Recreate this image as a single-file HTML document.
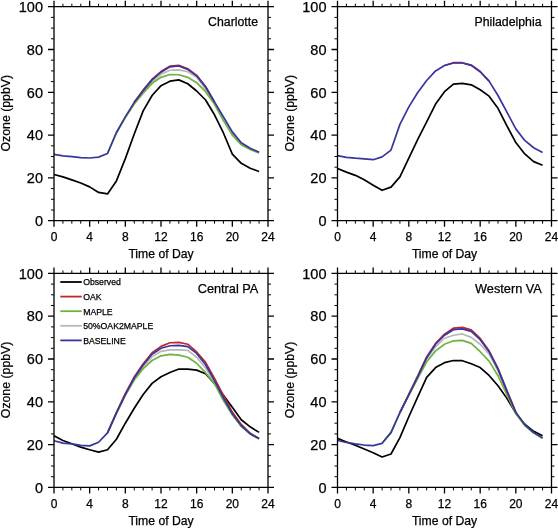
<!DOCTYPE html>
<html><head><meta charset="utf-8"><style>
html,body{margin:0;padding:0;background:#fff;}
body{width:558px;height:528px;overflow:hidden;}
svg{display:block;}
text{font-family:"Liberation Sans",sans-serif;fill:#000;stroke:#000;stroke-width:0.25px;}
.yl{font-size:14.5px;text-anchor:end;}
.xl{font-size:12px;text-anchor:middle;}
.xt{font-size:12.2px;text-anchor:middle;}
.yt{font-size:12.3px;text-anchor:middle;}
.tt{font-size:12.3px;text-anchor:end;}
.lg{font-size:8.7px;}
</style></head><body>
<svg style="will-change:transform" width="558" height="528" viewBox="0 0 558 528">
<rect width="558" height="528" fill="#fff"/>
<polyline points="54,174.48 62.92,176.83 71.83,179.83 80.75,183.04 89.67,186.89 98.58,192.45 107.5,193.95 116.42,180.9 125.33,158.64 134.25,134.03 143.17,110.92 152.08,95.51 161,85.67 169.92,81.17 178.83,79.89 187.75,83.74 196.67,91.02 205.58,100 214.5,114.77 223.42,132.96 232.33,154.15 241.25,163.35 250.17,168.27 259.08,171.48" fill="none" stroke="#000000" stroke-width="1.7" stroke-linejoin="round"/>
<polyline points="125.33,116.91 134.25,103 143.17,91.66 152.08,81.6 161,74.32 169.92,70.26 178.83,69.83 187.75,71.76 196.67,77.32 205.58,89.09 214.5,103 223.42,117.34 232.33,132.75 241.25,143.23 250.17,148.58 259.08,152.22" fill="none" stroke="#b8b8b8" stroke-width="1.7" stroke-linejoin="round"/>
<polyline points="107.5,153.5 116.42,132.96 125.33,117.55 134.25,104.07 143.17,93.16 152.08,83.31 161,77.32 169.92,74.54 178.83,74.75 187.75,77.32 196.67,82.67 205.58,91.66 214.5,104.28 223.42,120.55 232.33,135.1 241.25,144.73 250.17,149.44 259.08,153.08" fill="none" stroke="#6db33f" stroke-width="1.7" stroke-linejoin="round"/>
<polyline points="134.25,102.36 143.17,90.16 152.08,79.25 161,71.54 169.92,66.19 178.83,65.34 187.75,68.76 196.67,75.39 205.58,86.52 214.5,101.93" fill="none" stroke="#c1272d" stroke-width="1.7" stroke-linejoin="round"/>
<polyline points="54,154.36 62.92,155.86 71.83,156.71 80.75,157.57 89.67,158 98.58,157.14 107.5,153.5 116.42,132.53 125.33,116.91 134.25,102.36 143.17,90.59 152.08,79.89 161,72.18 169.92,66.83 178.83,65.98 187.75,69.4 196.67,75.82 205.58,86.95 214.5,101.93 223.42,116.91 232.33,131.89 241.25,142.8 250.17,148.15 259.08,152.22" fill="none" stroke="#38359e" stroke-width="1.7" stroke-linejoin="round"/>
<path d="M54 6.7H268V220.7H54ZM54 220.7v6M54 6.7v-6M89.67 220.7v6M89.67 6.7v-6M125.33 220.7v6M125.33 6.7v-6M161 220.7v6M161 6.7v-6M196.67 220.7v6M196.67 6.7v-6M232.33 220.7v6M232.33 6.7v-6M268 220.7v6M268 6.7v-6M54 220.7h-6M268 220.7h6M54 177.9h-6M268 177.9h6M54 135.1h-6M268 135.1h6M54 92.3h-6M268 92.3h6M54 49.5h-6M268 49.5h6M54 6.7h-6M268 6.7h6" fill="none" stroke="#000" stroke-width="1.3"/>
<path d="M62.92 220.7v3M62.92 6.7v-3M71.83 220.7v3M71.83 6.7v-3M80.75 220.7v3M80.75 6.7v-3M98.58 220.7v3M98.58 6.7v-3M107.5 220.7v3M107.5 6.7v-3M116.42 220.7v3M116.42 6.7v-3M134.25 220.7v3M134.25 6.7v-3M143.17 220.7v3M143.17 6.7v-3M152.08 220.7v3M152.08 6.7v-3M169.92 220.7v3M169.92 6.7v-3M178.83 220.7v3M178.83 6.7v-3M187.75 220.7v3M187.75 6.7v-3M205.58 220.7v3M205.58 6.7v-3M214.5 220.7v3M214.5 6.7v-3M223.42 220.7v3M223.42 6.7v-3M241.25 220.7v3M241.25 6.7v-3M250.17 220.7v3M250.17 6.7v-3M259.08 220.7v3M259.08 6.7v-3M54 210h-3M268 210h3M54 199.3h-3M268 199.3h3M54 188.6h-3M268 188.6h3M54 167.2h-3M268 167.2h3M54 156.5h-3M268 156.5h3M54 145.8h-3M268 145.8h3M54 124.4h-3M268 124.4h3M54 113.7h-3M268 113.7h3M54 103h-3M268 103h3M54 81.6h-3M268 81.6h3M54 70.9h-3M268 70.9h3M54 60.2h-3M268 60.2h3M54 38.8h-3M268 38.8h3M54 28.1h-3M268 28.1h3M54 17.4h-3M268 17.4h3" fill="none" stroke="#000" stroke-width="1"/>
<text x="43" y="225.9" class="yl">0</text>
<text x="43" y="183.1" class="yl">20</text>
<text x="43" y="140.3" class="yl">40</text>
<text x="43" y="97.5" class="yl">60</text>
<text x="43" y="54.7" class="yl">80</text>
<text x="43" y="11.9" class="yl">100</text>
<text x="54" y="241.4" class="xl">0</text>
<text x="89.67" y="241.4" class="xl">4</text>
<text x="125.33" y="241.4" class="xl">8</text>
<text x="161" y="241.4" class="xl">12</text>
<text x="196.67" y="241.4" class="xl">16</text>
<text x="232.33" y="241.4" class="xl">20</text>
<text x="268" y="241.4" class="xl">24</text>
<text x="161" y="258.2" class="xt">Time of Day</text>
<text transform="translate(10 113.2) rotate(-90)" class="yt">Ozone (ppbV)</text>
<text x="258" y="25.9" class="tt">Charlotte</text>
<polyline points="337.5,168.48 346.42,172.12 355.33,175.33 364.25,179.83 373.17,185.18 382.08,190.31 391,187.1 399.92,176.83 408.83,158.21 417.75,139.38 426.67,121.83 435.58,104.07 444.5,91.66 453.42,84.17 462.33,83.31 471.25,84.81 480.17,89.73 489.08,96.15 498,108.35 506.92,125.9 515.83,142.59 524.75,153.93 533.67,161.64 542.58,165.27" fill="none" stroke="#000000" stroke-width="1.7" stroke-linejoin="round"/>
<polyline points="444.5,65.55 453.42,62.7 462.33,62.7 471.25,65.06 480.17,71.48 489.08,81.17" fill="none" stroke="#c1272d" stroke-width="1.7" stroke-linejoin="round"/>
<polyline points="337.5,155.64 346.42,157.36 355.33,158.21 364.25,158.85 373.17,159.71 382.08,156.93 391,150.08 399.92,124.4 408.83,106.85 417.75,92.51 426.67,80.53 435.58,70.9 444.5,65.55 453.42,62.98 462.33,62.98 471.25,65.34 480.17,71.76 489.08,81.17 498,95.51 506.92,112.2 515.83,128.89 524.75,140.45 533.67,147.73 542.58,152.43" fill="none" stroke="#38359e" stroke-width="1.7" stroke-linejoin="round"/>
<path d="M337.5 6.7H551.5V220.7H337.5ZM337.5 220.7v6M337.5 6.7v-6M373.17 220.7v6M373.17 6.7v-6M408.83 220.7v6M408.83 6.7v-6M444.5 220.7v6M444.5 6.7v-6M480.17 220.7v6M480.17 6.7v-6M515.83 220.7v6M515.83 6.7v-6M551.5 220.7v6M551.5 6.7v-6M337.5 220.7h-6M551.5 220.7h6M337.5 177.9h-6M551.5 177.9h6M337.5 135.1h-6M551.5 135.1h6M337.5 92.3h-6M551.5 92.3h6M337.5 49.5h-6M551.5 49.5h6M337.5 6.7h-6M551.5 6.7h6" fill="none" stroke="#000" stroke-width="1.3"/>
<path d="M346.42 220.7v3M346.42 6.7v-3M355.33 220.7v3M355.33 6.7v-3M364.25 220.7v3M364.25 6.7v-3M382.08 220.7v3M382.08 6.7v-3M391 220.7v3M391 6.7v-3M399.92 220.7v3M399.92 6.7v-3M417.75 220.7v3M417.75 6.7v-3M426.67 220.7v3M426.67 6.7v-3M435.58 220.7v3M435.58 6.7v-3M453.42 220.7v3M453.42 6.7v-3M462.33 220.7v3M462.33 6.7v-3M471.25 220.7v3M471.25 6.7v-3M489.08 220.7v3M489.08 6.7v-3M498 220.7v3M498 6.7v-3M506.92 220.7v3M506.92 6.7v-3M524.75 220.7v3M524.75 6.7v-3M533.67 220.7v3M533.67 6.7v-3M542.58 220.7v3M542.58 6.7v-3M337.5 210h-3M551.5 210h3M337.5 199.3h-3M551.5 199.3h3M337.5 188.6h-3M551.5 188.6h3M337.5 167.2h-3M551.5 167.2h3M337.5 156.5h-3M551.5 156.5h3M337.5 145.8h-3M551.5 145.8h3M337.5 124.4h-3M551.5 124.4h3M337.5 113.7h-3M551.5 113.7h3M337.5 103h-3M551.5 103h3M337.5 81.6h-3M551.5 81.6h3M337.5 70.9h-3M551.5 70.9h3M337.5 60.2h-3M551.5 60.2h3M337.5 38.8h-3M551.5 38.8h3M337.5 28.1h-3M551.5 28.1h3M337.5 17.4h-3M551.5 17.4h3" fill="none" stroke="#000" stroke-width="1"/>
<text x="326.5" y="225.9" class="yl">0</text>
<text x="326.5" y="183.1" class="yl">20</text>
<text x="326.5" y="140.3" class="yl">40</text>
<text x="326.5" y="97.5" class="yl">60</text>
<text x="326.5" y="54.7" class="yl">80</text>
<text x="326.5" y="11.9" class="yl">100</text>
<text x="337.5" y="241.4" class="xl">0</text>
<text x="373.17" y="241.4" class="xl">4</text>
<text x="408.83" y="241.4" class="xl">8</text>
<text x="444.5" y="241.4" class="xl">12</text>
<text x="480.17" y="241.4" class="xl">16</text>
<text x="515.83" y="241.4" class="xl">20</text>
<text x="551.5" y="241.4" class="xl">24</text>
<text x="444.5" y="258.2" class="xt">Time of Day</text>
<text transform="translate(293.5 113.2) rotate(-90)" class="yt">Ozone (ppbV)</text>
<text x="541.5" y="25.9" class="tt">Philadelphia</text>
<polyline points="54,435.83 62.92,440.53 71.83,443.74 80.75,447.17 89.67,449.74 98.58,452.09 107.5,449.74 116.42,439.25 125.33,423.2 134.25,408.22 143.17,394.52 152.08,383.4 161,376.76 169.92,372.48 178.83,369.06 187.75,369.06 196.67,370.13 205.58,373.77 214.5,383.61 223.42,395.38 232.33,407.36 241.25,419.78 250.17,426.84 259.08,432.4" fill="none" stroke="#000000" stroke-width="1.7" stroke-linejoin="round"/>
<polyline points="116.42,412.93 125.33,394.74 134.25,378.69 143.17,366.49 152.08,356.86 161,351.3 169.92,349.8 178.83,349.8 187.75,350.44 196.67,357.29 205.58,367.99 214.5,382.11 223.42,399.02 232.33,414.21 241.25,425.98 250.17,433.69" fill="none" stroke="#b8b8b8" stroke-width="1.7" stroke-linejoin="round"/>
<polyline points="107.5,432.83 116.42,413.57 125.33,395.38 134.25,379.97 143.17,368.63 152.08,360.5 161,355.79 169.92,354.29 178.83,355.15 187.75,357.29 196.67,363.28 205.58,372.7 214.5,383.61 223.42,400.52 232.33,414.85 241.25,426.41 250.17,434.11 259.08,439.04" fill="none" stroke="#6db33f" stroke-width="1.7" stroke-linejoin="round"/>
<polyline points="107.5,432.83 116.42,412.5 125.33,393.67 134.25,376.98 143.17,363.71 152.08,352.79 161,346.37 169.92,342.74 178.83,342.31 187.75,344.23 196.67,351.94 205.58,362.42 214.5,378.47 223.42,395.38 232.33,412.07 241.25,424.48 250.17,433.26 259.08,438.61" fill="none" stroke="#c1272d" stroke-width="1.7" stroke-linejoin="round"/>
<polyline points="54,440.75 62.92,443.1 71.83,443.96 80.75,445.46 89.67,445.88 98.58,442.25 107.5,432.83 116.42,412.93 125.33,394.31 134.25,377.83 143.17,364.99 152.08,354.29 161,348.3 169.92,345.73 178.83,345.3 187.75,346.59 196.67,353.44 205.58,364.78 214.5,380.61 223.42,397.95 232.33,413.78 241.25,425.55 250.17,433.69 259.08,438.61" fill="none" stroke="#38359e" stroke-width="1.7" stroke-linejoin="round"/>
<path d="M54 273.4H268V487.4H54ZM54 487.4v6M54 273.4v-6M89.67 487.4v6M89.67 273.4v-6M125.33 487.4v6M125.33 273.4v-6M161 487.4v6M161 273.4v-6M196.67 487.4v6M196.67 273.4v-6M232.33 487.4v6M232.33 273.4v-6M268 487.4v6M268 273.4v-6M54 487.4h-6M268 487.4h6M54 444.6h-6M268 444.6h6M54 401.8h-6M268 401.8h6M54 359h-6M268 359h6M54 316.2h-6M268 316.2h6M54 273.4h-6M268 273.4h6" fill="none" stroke="#000" stroke-width="1.3"/>
<path d="M62.92 487.4v3M62.92 273.4v-3M71.83 487.4v3M71.83 273.4v-3M80.75 487.4v3M80.75 273.4v-3M98.58 487.4v3M98.58 273.4v-3M107.5 487.4v3M107.5 273.4v-3M116.42 487.4v3M116.42 273.4v-3M134.25 487.4v3M134.25 273.4v-3M143.17 487.4v3M143.17 273.4v-3M152.08 487.4v3M152.08 273.4v-3M169.92 487.4v3M169.92 273.4v-3M178.83 487.4v3M178.83 273.4v-3M187.75 487.4v3M187.75 273.4v-3M205.58 487.4v3M205.58 273.4v-3M214.5 487.4v3M214.5 273.4v-3M223.42 487.4v3M223.42 273.4v-3M241.25 487.4v3M241.25 273.4v-3M250.17 487.4v3M250.17 273.4v-3M259.08 487.4v3M259.08 273.4v-3M54 476.7h-3M268 476.7h3M54 466h-3M268 466h3M54 455.3h-3M268 455.3h3M54 433.9h-3M268 433.9h3M54 423.2h-3M268 423.2h3M54 412.5h-3M268 412.5h3M54 391.1h-3M268 391.1h3M54 380.4h-3M268 380.4h3M54 369.7h-3M268 369.7h3M54 348.3h-3M268 348.3h3M54 337.6h-3M268 337.6h3M54 326.9h-3M268 326.9h3M54 305.5h-3M268 305.5h3M54 294.8h-3M268 294.8h3M54 284.1h-3M268 284.1h3" fill="none" stroke="#000" stroke-width="1"/>
<text x="43" y="492.6" class="yl">0</text>
<text x="43" y="449.8" class="yl">20</text>
<text x="43" y="407" class="yl">40</text>
<text x="43" y="364.2" class="yl">60</text>
<text x="43" y="321.4" class="yl">80</text>
<text x="43" y="278.6" class="yl">100</text>
<text x="54" y="508.1" class="xl">0</text>
<text x="89.67" y="508.1" class="xl">4</text>
<text x="125.33" y="508.1" class="xl">8</text>
<text x="161" y="508.1" class="xl">12</text>
<text x="196.67" y="508.1" class="xl">16</text>
<text x="232.33" y="508.1" class="xl">20</text>
<text x="268" y="508.1" class="xl">24</text>
<text x="161" y="524.9" class="xt">Time of Day</text>
<text transform="translate(10 379.9) rotate(-90)" class="yt">Ozone (ppbV)</text>
<text x="258.4" y="293.1" class="tt" style="font-size:12.75px">Central PA</text>
<polyline points="337.5,438.39 346.42,442.03 355.33,445.24 364.25,449.09 373.17,452.73 382.08,457.01 391,454.02 399.92,437.54 408.83,416.78 417.75,396.88 426.67,377.4 435.58,367.56 444.5,362.64 453.42,360.5 462.33,360.71 471.25,363.71 480.17,367.56 489.08,375.48 498,385.75 506.92,398.38 515.83,413.36 524.75,424.27 533.67,431.33 542.58,435.83" fill="none" stroke="#000000" stroke-width="1.7" stroke-linejoin="round"/>
<polyline points="408.83,394.74 417.75,377.19 426.67,359 435.58,346.8 444.5,338.24 453.42,335.25 462.33,333.96 471.25,337.39 480.17,344.23 489.08,354.08 498,370.77 506.92,392.38 515.83,412.71 524.75,424.7" fill="none" stroke="#b8b8b8" stroke-width="1.7" stroke-linejoin="round"/>
<polyline points="382.08,443.32 391,432.83 399.92,412.93 408.83,395.38 417.75,378.26 426.67,361.78 435.58,350.87 444.5,344.23 453.42,340.81 462.33,340.38 471.25,343.38 480.17,351.72 489.08,361.14 498,375.69 506.92,394.52 515.83,413.78 524.75,425.55 533.67,433.04 542.58,438.39" fill="none" stroke="#6db33f" stroke-width="1.7" stroke-linejoin="round"/>
<polyline points="399.92,412.5 408.83,394.31 417.75,375.91 426.67,356.86 435.58,343.38 444.5,334.18 453.42,328.18 462.33,327.33 471.25,329.9 480.17,338.46 489.08,350.87 498,368.42 506.92,390.67 515.83,412.29" fill="none" stroke="#c1272d" stroke-width="1.7" stroke-linejoin="round"/>
<polyline points="337.5,440.53 346.42,442.46 355.33,443.96 364.25,445.03 373.17,445.67 382.08,443.32 391,432.4 399.92,412.5 408.83,394.74 417.75,376.55 426.67,357.72 435.58,344.23 444.5,335.25 453.42,329.68 462.33,328.83 471.25,331.39 480.17,339.74 489.08,351.72 498,369.06 506.92,391.1 515.83,412.29 524.75,424.7 533.67,432.62 542.58,437.97" fill="none" stroke="#38359e" stroke-width="1.7" stroke-linejoin="round"/>
<path d="M337.5 273.4H551.5V487.4H337.5ZM337.5 487.4v6M337.5 273.4v-6M373.17 487.4v6M373.17 273.4v-6M408.83 487.4v6M408.83 273.4v-6M444.5 487.4v6M444.5 273.4v-6M480.17 487.4v6M480.17 273.4v-6M515.83 487.4v6M515.83 273.4v-6M551.5 487.4v6M551.5 273.4v-6M337.5 487.4h-6M551.5 487.4h6M337.5 444.6h-6M551.5 444.6h6M337.5 401.8h-6M551.5 401.8h6M337.5 359h-6M551.5 359h6M337.5 316.2h-6M551.5 316.2h6M337.5 273.4h-6M551.5 273.4h6" fill="none" stroke="#000" stroke-width="1.3"/>
<path d="M346.42 487.4v3M346.42 273.4v-3M355.33 487.4v3M355.33 273.4v-3M364.25 487.4v3M364.25 273.4v-3M382.08 487.4v3M382.08 273.4v-3M391 487.4v3M391 273.4v-3M399.92 487.4v3M399.92 273.4v-3M417.75 487.4v3M417.75 273.4v-3M426.67 487.4v3M426.67 273.4v-3M435.58 487.4v3M435.58 273.4v-3M453.42 487.4v3M453.42 273.4v-3M462.33 487.4v3M462.33 273.4v-3M471.25 487.4v3M471.25 273.4v-3M489.08 487.4v3M489.08 273.4v-3M498 487.4v3M498 273.4v-3M506.92 487.4v3M506.92 273.4v-3M524.75 487.4v3M524.75 273.4v-3M533.67 487.4v3M533.67 273.4v-3M542.58 487.4v3M542.58 273.4v-3M337.5 476.7h-3M551.5 476.7h3M337.5 466h-3M551.5 466h3M337.5 455.3h-3M551.5 455.3h3M337.5 433.9h-3M551.5 433.9h3M337.5 423.2h-3M551.5 423.2h3M337.5 412.5h-3M551.5 412.5h3M337.5 391.1h-3M551.5 391.1h3M337.5 380.4h-3M551.5 380.4h3M337.5 369.7h-3M551.5 369.7h3M337.5 348.3h-3M551.5 348.3h3M337.5 337.6h-3M551.5 337.6h3M337.5 326.9h-3M551.5 326.9h3M337.5 305.5h-3M551.5 305.5h3M337.5 294.8h-3M551.5 294.8h3M337.5 284.1h-3M551.5 284.1h3" fill="none" stroke="#000" stroke-width="1"/>
<text x="326.5" y="492.6" class="yl">0</text>
<text x="326.5" y="449.8" class="yl">20</text>
<text x="326.5" y="407" class="yl">40</text>
<text x="326.5" y="364.2" class="yl">60</text>
<text x="326.5" y="321.4" class="yl">80</text>
<text x="326.5" y="278.6" class="yl">100</text>
<text x="337.5" y="508.1" class="xl">0</text>
<text x="373.17" y="508.1" class="xl">4</text>
<text x="408.83" y="508.1" class="xl">8</text>
<text x="444.5" y="508.1" class="xl">12</text>
<text x="480.17" y="508.1" class="xl">16</text>
<text x="515.83" y="508.1" class="xl">20</text>
<text x="551.5" y="508.1" class="xl">24</text>
<text x="444.5" y="524.9" class="xt">Time of Day</text>
<text transform="translate(293.5 379.9) rotate(-90)" class="yt">Ozone (ppbV)</text>
<text x="541.9" y="293.1" class="tt" style="font-size:12.75px">Western VA</text>
<line x1="60.3" y1="282" x2="81.8" y2="282" stroke="#000000" stroke-width="1.8"/>
<text x="83.2" y="285.4" class="lg">Observed</text>
<line x1="60.3" y1="296.6" x2="81.8" y2="296.6" stroke="#c1272d" stroke-width="1.8"/>
<text x="83.2" y="300" class="lg">OAK</text>
<line x1="60.3" y1="311.2" x2="81.8" y2="311.2" stroke="#6db33f" stroke-width="1.8"/>
<text x="83.2" y="314.6" class="lg">MAPLE</text>
<line x1="60.3" y1="325.8" x2="81.8" y2="325.8" stroke="#b8b8b8" stroke-width="1.8"/>
<text x="83.2" y="329.2" class="lg">50%OAK2MAPLE</text>
<line x1="60.3" y1="340.4" x2="81.8" y2="340.4" stroke="#38359e" stroke-width="1.8"/>
<text x="83.2" y="343.8" class="lg">BASELINE</text>
</svg>
</body></html>
